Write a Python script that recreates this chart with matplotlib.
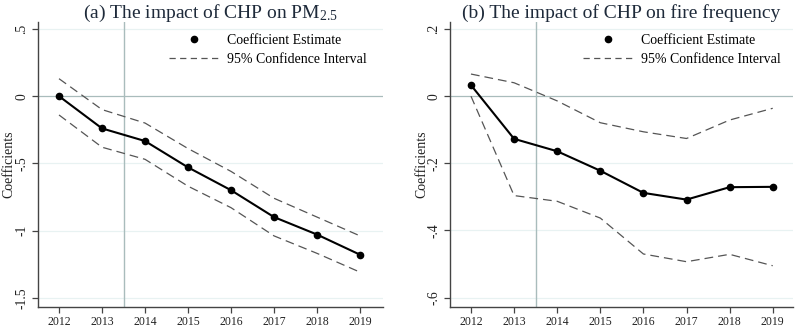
import matplotlib
matplotlib.use("Agg")
import matplotlib.pyplot as plt
from matplotlib.lines import Line2D

plt.rcParams['font.family'] = ['Liberation Serif', 'DejaVu Serif']
plt.rcParams['mathtext.fontset'] = 'custom'
plt.rcParams['mathtext.rm'] = 'Liberation Serif'
plt.rcParams['mathtext.it'] = 'Liberation Serif:italic'

years = [2012, 2013, 2014, 2015, 2016, 2017, 2018, 2019]

# Panel (a): PM2.5
pm_est = [0.0, -0.24, -0.334, -0.53, -0.70, -0.90, -1.03, -1.18]
pm_upper = [0.13, -0.10, -0.20, -0.39, -0.56, -0.76, -0.90, -1.04]
pm_lower = [-0.14, -0.38, -0.47, -0.67, -0.83, -1.04, -1.17, -1.31]
pm_yticks = [0.5, 0, -0.5, -1, -1.5]
pm_yticklabels = ['.5', '0', '-.5', '-1', '-1.5']

# Panel (b): fire frequency
fire_est = [0.033, -0.127, -0.164, -0.222, -0.288, -0.308, -0.271, -0.270]
fire_upper = [0.066, 0.040, -0.014, -0.079, -0.106, -0.126, -0.071, -0.036]
fire_lower = [0.0, -0.296, -0.313, -0.363, -0.47, -0.493, -0.471, -0.505]
fire_yticks = [0.2, 0, -0.2, -0.4, -0.6]
fire_yticklabels = ['.2', '0', '-.2', '-.4', '-.6']

titles = ['(a) The impact of CHP on PM$_{2.5}$', '(b) The impact of CHP on fire frequency']

fig = plt.figure(figsize=(7.96, 3.27), dpi=100)
ax1 = fig.add_axes([0.0474, 0.0621, 0.4338, 0.8706])
ax2 = fig.add_axes([0.5653, 0.0621, 0.4309, 0.8706])

axis_color = '#444444'
ref_color = '#a9bcbc'
grid_color = '#e8f2f2'
text_color = '#222222'

def draw(ax, est, up, lo, yticks, ylabels, ylim, xlim, title, ylab_x, leg_x):
    for yt in yticks:
        if yt != 0:
            ax.axhline(yt, color=grid_color, lw=0.9, zorder=0)
    ax.axhline(0, color=ref_color, lw=0.9, zorder=1)
    ax.axvline(2013.5, color=ref_color, lw=1.0, zorder=1)
    ax.plot(years, up, color='#555555', lw=0.9, dashes=(7, 4), zorder=2)
    ax.plot(years, lo, color='#555555', lw=0.9, dashes=(7, 4), zorder=2)
    ax.plot(years, est, color='black', lw=1.5, marker='o', ms=4.5, zorder=3)
    ax.set_xlim(*xlim)
    ax.set_ylim(*ylim)
    ax.set_xticks(years)
    ax.set_xticklabels([str(y) for y in years], fontsize=8.5, color=text_color)
    ax.set_yticks(yticks)
    ax.set_yticklabels(ylabels, fontsize=9.8, rotation=90, va='center', color=text_color)
    ax.tick_params(axis='both', direction='out', length=4.5, width=0.9, color=axis_color, pad=2.5)
    for s in ['top', 'right']:
        ax.spines[s].set_visible(False)
    for s in ['left', 'bottom']:
        ax.spines[s].set_color(axis_color)
        ax.spines[s].set_linewidth(1.0)
    ax.set_ylabel('Coefficients', fontsize=10, color=text_color)
    ax.yaxis.set_label_coords(ylab_x, 0.5)
    pos = ax.get_position()
    fig.text(pos.x0 + pos.width / 2, 1 - 17.5 / 327, title, fontsize=14,
             color='#1e2a3a', ha='center', va='baseline')
    handles = [Line2D([], [], color='black', marker='o', ls='none', ms=4.5),
               Line2D([], [], color='#555555', lw=0.9, dashes=(5, 3.5))]
    ax.legend(handles, ['Coefficient Estimate', '95% Confidence Interval'],
              loc='upper right', bbox_to_anchor=(leg_x, 0.958), frameon=False, fontsize=10,
              handlelength=3.6, handletextpad=0.58, borderaxespad=0, borderpad=0,
              labelspacing=0.45)

draw(ax1, pm_est, pm_upper, pm_lower, pm_yticks, pm_yticklabels,
     (-1.567, 0.552), (2011.505, 2019.535), titles[0], -0.064, 0.954)
draw(ax2, fire_est, fire_upper, fire_lower, fire_yticks, fire_yticklabels,
     (-0.627, 0.221), (2011.513, 2019.47), titles[1], -0.064, 0.965)

fig.savefig('out.png', dpi=100)
